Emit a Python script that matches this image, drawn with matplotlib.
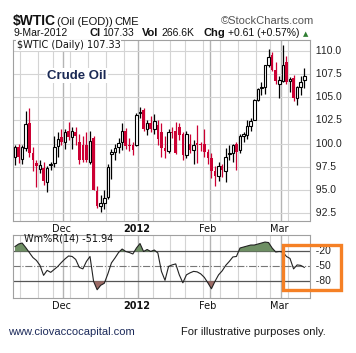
import numpy as np
import matplotlib.pyplot as plt
from matplotlib.transforms import blended_transform_factory

W, H = 356, 353

# daily OHLC for $WTIC, 10-Nov-2011 .. 9-Mar-2012
opens = [98.5, 99.6, 98.3, 99.5, 102.2, 99.0, 97.9, 97.3, 97.4, 95.8,
         97.7, 97.9, 99.7, 100.7, 100.2, 101.4, 100.7, 101.3, 100.2, 99.8,
         99.8, 98.0, 100.6, 94.9, 93.3, 93.6, 94.2, 98.9, 99.1, 99.6,
         100.2, 101.4, 99.9, 99.9, 99.9, 103.3, 103.6, 101.6, 102.2, 101.6,
         102.0, 101.3, 99.5, 99.2, 101.3, 101.4, 101.8, 101.0, 98.8, 100.0,
         99.3, 100.0, 100.0, 100.0, 99.1, 98.4, 97.0, 96.5, 97.6, 97.0,
         98.9, 99.0, 100.0, 99.3, 100.8, 100.9, 101.9, 102.6, 104.7, 106.0,
         106.1, 108.5, 109.6, 107.9, 106.4, 106.8, 108.8, 106.8, 107.1, 104.9,
         106.1, 106.9]
highs = [99.8, 100.0, 99.8, 103.5, 103.8, 99.6, 98.2, 98.2, 98.0, 97.6,
         98.0, 100.8, 101.2, 101.6, 101.6, 102.3, 101.8, 101.8, 101.0, 100.8,
         101.2, 101.4, 100.8, 95.4, 94.4, 95.0, 97.8, 99.4, 100.0, 100.6,
         102.2, 101.7, 100.6, 100.2, 103.3, 103.9, 103.8, 102.6, 103.0, 103.2,
         102.6, 102.2, 100.8, 101.6, 101.8, 102.3, 102.2, 101.2, 101.4, 101.0,
         100.4, 102.0, 100.2, 101.6, 99.4, 99.0, 97.6, 98.0, 97.8, 99.5,
         99.8, 100.0, 100.2, 101.0, 101.2, 102.6, 102.8, 104.8, 106.0, 106.6,
         108.5, 110.2, 109.9, 108.8, 107.3, 110.6, 109.5, 107.2, 107.4, 106.2,
         107.3, 108.2]
lows = [97.7, 97.9, 97.8, 99.2, 98.6, 97.0, 95.3, 96.8, 95.5, 94.8,
        97.2, 97.5, 98.6, 99.9, 99.4, 100.4, 99.4, 99.8, 97.8, 98.0,
        98.0, 97.8, 95.0, 93.0, 92.6, 92.9, 94.0, 96.2, 98.2, 99.0,
        99.3, 99.4, 99.2, 98.8, 99.7, 102.8, 101.4, 100.9, 101.2, 101.0,
        99.8, 98.6, 98.4, 99.0, 100.6, 98.9, 100.4, 98.2, 98.4, 99.0,
        97.8, 97.9, 99.2, 98.6, 97.8, 96.3, 95.4, 96.0, 96.4, 95.8,
        98.2, 98.0, 97.2, 99.0, 100.2, 100.5, 101.4, 102.5, 104.6, 105.2,
        105.4, 108.3, 107.8, 106.4, 104.9, 106.6, 106.4, 105.6, 104.6, 104.2,
        105.3, 106.0]
closes = [99.6, 98.5, 99.6, 102.1, 99.0, 98.2, 97.6, 97.7, 96.0, 97.4,
          97.8, 99.6, 100.5, 100.2, 101.3, 100.7, 101.4, 100.8, 98.2, 98.2,
          98.2, 100.3, 95.0, 93.3, 93.6, 94.1, 97.5, 99.1, 99.5, 100.1,
          101.4, 99.7, 99.7, 99.3, 103.1, 103.4, 101.6, 102.2, 101.6, 102.4,
          100.5, 99.5, 99.2, 101.2, 101.1, 99.0, 100.9, 98.8, 101.0, 99.3,
          99.9, 99.9, 99.8, 99.1, 98.4, 97.0, 96.5, 97.6, 97.1, 98.6,
          99.0, 99.8, 99.1, 100.8, 101.0, 101.9, 102.4, 104.7, 105.9, 106.1,
          108.5, 109.4, 107.9, 106.8, 106.9, 108.5, 106.7, 107.0, 104.9, 106.1,
          106.7, 107.33]

# Williams %R(14)
willr = [-10, -5, -3, -12, -22, -32, -38, -48, -68, -58,
         -62, -56, -50, -42, -35, -29, -30, -36, -52, -55,
         -40, -30, -80, -97, -88, -84, -65, -43, -33, -22,
         -15, -20, -22, -25, -13, -4, -20, -16, -20, -17,
         -23, -60, -78, -50, -47, -45, -67, -83, -67, -63,
         -60, -61, -65, -72, -83, -95, -80, -67, -59, -48,
         -40, -31, -30, -13, -11, -9, -7, -7, -5, -3,
         -1, -2, -13, -21, -20, -21, -30, -34, -55, -47,
         -48, -51.94]

month_pos = [14, 35, 55, 75]
month_labels = ["Dec", "2012", "Feb", "Mar"]
week_pos = [2, 7, 11, 16, 21, 26, 31, 39, 44, 48, 53, 58, 63, 68, 72, 77]
price_ticks = [92.5, 95.0, 97.5, 100.0, 102.5, 105.0, 107.5, 110.0]
wr_levels = [-20, -50, -80]

RED = "#cc0033"
GRID = "#d4d4d4"
MGRID = "#b4b4b4"

o = np.array(opens); h = np.array(highs); l = np.array(lows); c = np.array(closes)
x = np.arange(len(c))
up = c >= o

fig = plt.figure(figsize=(W / 100, H / 100), dpi=100)


def box(left, top, right, bottom):
    return [left / W, 1 - bottom / H, (right - left) / W, (bottom - top) / H]


ax = fig.add_axes(box(13, 40, 310, 221))
ax2 = fig.add_axes(box(13, 235, 310, 298))

for a in (ax, ax2):
    a.set_xlim(-0.56, 82.6)
    for p in week_pos:
        a.axvline(p - 0.5, color=GRID, lw=0.8, zorder=0)
    for p in month_pos:
        a.axvline(p - 0.5, color=MGRID, lw=1.0, zorder=0)
    for s in a.spines.values():
        s.set_color("#a0a0a0")
        s.set_linewidth(0.8)
    a.spines["bottom"].set_linestyle((0, (1, 1)))
    a.set_xticks([])
    a.set_yticks([])

# price panel
ax.set_ylim(91.64, 111.19)
for t in price_ticks:
    ax.axhline(t, color=GRID, lw=0.8, zorder=0)

ax.vlines(x[up], l[up], h[up], color="black", lw=0.9, zorder=2)
ax.vlines(x[~up], l[~up], h[~up], color=RED, lw=0.9, zorder=2)
hgt = np.maximum(np.abs(c - o), 0.12)
bot = np.minimum(c, o)
ax.bar(x[up], hgt[up], bottom=bot[up], width=0.72, facecolor="white",
       edgecolor="black", linewidth=0.8, zorder=3)
ax.bar(x[~up], hgt[~up], bottom=bot[~up], width=0.72, color=RED,
       linewidth=0, zorder=3)

for t in price_ticks:
    ax.text(82.6, t, "  %.1f" % t, ha="left", va="center", fontsize=7.5,
            family="Liberation Sans", color="#222222", clip_on=False)

ax.text(0.5, 110.3, "$WTIC (Daily) 107.33", fontsize=7, family="DejaVu Sans",
        ha="left", va="baseline", color="#111111", zorder=5,
        bbox=dict(facecolor="white", edgecolor="none", pad=0.5))
ax.text(9, 107.0, "Crude Oil", fontsize=9.5, fontweight="bold",
        family="Liberation Sans", color="#1b2a55", ha="left", va="baseline",
        zorder=5, bbox=dict(facecolor="white", edgecolor="none", pad=1))

# Williams %R panel
wr = np.array(willr, dtype=float)
ax2.set_ylim(-113.6, 13.2)
ax2.axhline(-20, color="#555555", lw=0.9, zorder=1)
ax2.axhline(-80, color="#555555", lw=0.9, zorder=1)
ax2.axhline(-50, color="#777777", lw=0.8, ls="-.", zorder=1)
ax2.fill_between(x, wr, -20, where=wr >= -20, interpolate=True,
                 color="#6e8f64", lw=0, zorder=2)
ax2.fill_between(x, wr, -80, where=wr <= -80, interpolate=True,
                 color="#9c6b66", lw=0, zorder=2)
ax2.plot(x, wr, color="#222222", lw=0.8, zorder=3)

for t in wr_levels:
    ax2.text(82.6, t, "  %d" % t, ha="left", va="center", fontsize=7.5,
             family="Liberation Sans", color="#222222", clip_on=False)

ax2.text(2.6, 0.5, "Wm%R(14) -51.94", fontsize=7, family="DejaVu Sans",
         ha="left", va="baseline", color="#111111", zorder=5)

# month labels under each panel
for a, base in ((ax, 232), (ax2, 309)):
    tr = blended_transform_factory(a.transData, fig.transFigure)
    for p, lab in zip(month_pos, month_labels):
        a.text(p - 1.0, 1 - base / H, lab, transform=tr,
               ha="center", va="baseline", fontsize=7, family="DejaVu Sans",
               fontweight="bold" if lab == "2012" else "normal",
               color="#111111")

# orange highlight box
fig.patches.append(plt.Rectangle((283 / W, 1 - 290 / H), 58 / W, 45 / H,
                                 transform=fig.transFigure, fill=False,
                                 edgecolor="#f58025", lw=2.4))


# header and footer texts
def ftxt(px, py, s, **kw):
    kw.setdefault("family", "Liberation Sans")
    kw.setdefault("color", "#111111")
    fig.text(px / W, 1 - py / H, s, ha="left", va="baseline", **kw)


ftxt(13, 25, "$WTIC", fontsize=10, fontweight="bold")
ftxt(57, 25, "(Oil (EOD))", fontsize=8)
ftxt(114, 25, "CME", fontsize=8)
ftxt(221, 24, "\u00a9StockCharts.com", fontsize=8, color="#555555")
ftxt(13, 36, "9-Mar-2012", fontsize=7.5)
ftxt(89, 36, "Cl", fontsize=8, fontweight="bold")
ftxt(102, 36, "107.33", fontsize=7.5)
ftxt(142, 36, "Vol", fontsize=8, fontweight="bold")
ftxt(161, 36, "266.6K", fontsize=7.5)
ftxt(203, 36, "Chg", fontsize=8, fontweight="bold")
ftxt(228, 36, "+0.61 (+0.57%)", fontsize=7.5)
ftxt(303, 36, "\u25b2", fontsize=5, color="#2e7d32", family="DejaVu Sans")

ftxt(8, 335, "www.ciovaccocapital.com", fontsize=8, color="#1c2a5a")
ftxt(181, 335, "For illustrative purposes only.", fontsize=8, color="#1a1a1a")

fig.savefig("out.png", dpi=100)
